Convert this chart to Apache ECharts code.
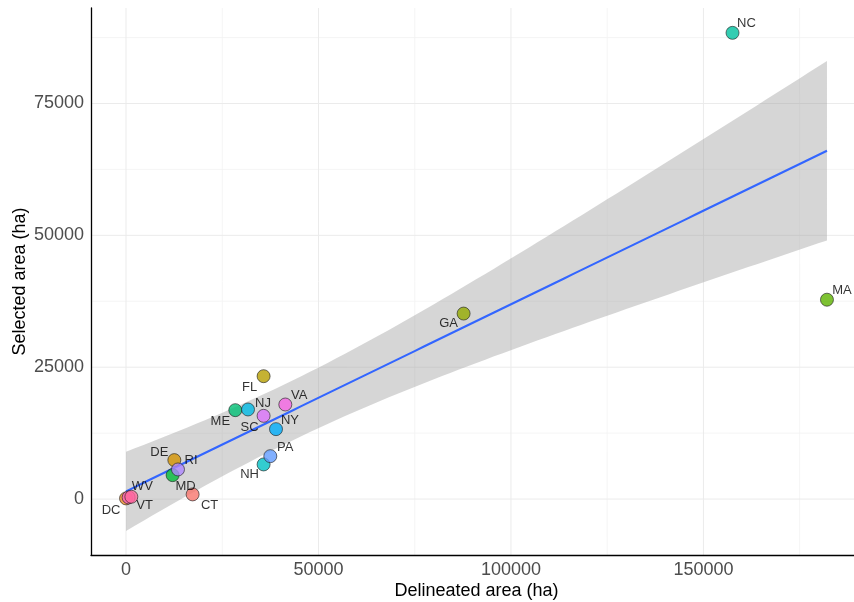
<!DOCTYPE html>
<html><head><meta charset="utf-8">
<script src="https://cdn.jsdelivr.net/npm/echarts@6/dist/echarts.min.js"></script>
<style>html,body{margin:0;padding:0;background:#fff}#chart{width:854px;height:602px}</style>
</head><body><div id="chart"></div>
<script>
// ---- data ----
const states = ['CT','DC','DE','FL','GA','MA','MD','ME','NC','NH','NJ','NY','PA','RI','SC','VA','VT','WV'];
const delineatedArea = [17300,0,12550,35740,87700,182100,12100,28390,157560,35740,31690,38960,37480,13500,35740,41380,675,1380];
const selectedArea   = [890,130,7390,23300,35170,37800,4540,16860,88390,6570,16990,13260,8140,5620,15780,17930,320,440];
const xTicks = [0,50000,100000,150000];
const yTicks = [0,25000,50000,75000];
const xMinorGrid = [25000,75000,125000,175000];
const yMinorGrid = [12500,37500,62500,87500];

// ---- layout / style (not data) ----
const X_MIN = -9100, X_MAX = 191200, Y_MIN = -10600, Y_MAX = 93100;
const labelOffset = {CT:[17,11],DC:[-15,12],DE:[-15,-8],FL:[-14,11],GA:[-15,10],MA:[15,-9],MD:[13,11],ME:[-15,11],
  NC:[14,-9],NH:[-14,10],NJ:[15,-6],NY:[14,-9],PA:[15,-9],RI:[13,-9],SC:[-14,12],VA:[14,-9],VT:[16,8],WV:[11,-10]};
const FONT = '"Liberation Sans", Arial, sans-serif';

// ggplot-like hue palette (HCL, L=65, C=100)
function hcl2hex(h, c, l) {
  const hr = h * Math.PI / 180;
  const U = c * Math.cos(hr), V = c * Math.sin(hr);
  const Xn = 95.047, Yn = 100, Zn = 108.883;
  const Y = l > 8 ? Yn * Math.pow((l + 16) / 116, 3) : Yn * l / 903.3;
  const den = Xn + 15 * Yn + 3 * Zn;
  const un = 4 * Xn / den, vn = 9 * Yn / den;
  const u = U / (13 * l) + un, v = V / (13 * l) + vn;
  const X = 9 * Y * u / (4 * v);
  const Z = Y * (12 - 3 * u - 20 * v) / (4 * v);
  const x = X / 100, y = Y / 100, z = Z / 100;
  let r = 3.240479 * x - 1.53715 * y - 0.498535 * z;
  let g = -0.969256 * x + 1.875992 * y + 0.041556 * z;
  let b = 0.055648 * x - 0.204043 * y + 1.057311 * z;
  const gam = t => t > 0.0031308 ? 1.055 * Math.pow(t, 1 / 2.4) - 0.055 : 12.92 * t;
  const to = t => { t = Math.round(Math.max(0, Math.min(1, gam(t))) * 255); return t.toString(16).padStart(2, '0'); };
  return '#' + to(r) + to(g) + to(b);
}
const colors = states.map((s, i) => hcl2hex(15 + 360 * i / states.length, 100, 65));

// ---- linear fit with 95% confidence band (as geom_smooth(method='lm')) ----
const n = delineatedArea.length;
const mx = delineatedArea.reduce((a, b) => a + b, 0) / n;
const my = selectedArea.reduce((a, b) => a + b, 0) / n;
let sxx = 0, sxy = 0;
for (let i = 0; i < n; i++) { sxx += (delineatedArea[i] - mx) ** 2; sxy += (delineatedArea[i] - mx) * (selectedArea[i] - my); }
const slope = sxy / sxx, intercept = my - slope * mx;
let sse = 0;
for (let i = 0; i < n; i++) sse += (selectedArea[i] - intercept - slope * delineatedArea[i]) ** 2;
const sres = Math.sqrt(sse / (n - 2));
const TCRIT = 2.1199; // t(0.975, df = 16)
const xLo = Math.min(...delineatedArea), xHi = Math.max(...delineatedArea);
const fitLine = [], bandUpper = [], bandLower = [];
for (let k = 0; k <= 80; k++) {
  const x = xLo + (xHi - xLo) * k / 80;
  const yh = intercept + slope * x;
  const se = sres * Math.sqrt(1 / n + (x - mx) ** 2 / sxx);
  fitLine.push([x, yh]); bandUpper.push([x, yh + TCRIT * se]); bandLower.push([x, yh - TCRIT * se]);
}

const plain = v => String(v);
const chart = echarts.init(document.getElementById('chart'), null, {renderer: 'canvas'});
chart.setOption({
  animation: false,
  textStyle: {fontFamily: FONT},
  grid: {left: 91, right: -8, top: 8, bottom: 47, containLabel: false, outerBoundsMode: 'none'},
  xAxis: {
    type: 'value', min: X_MIN, max: X_MAX,
    name: 'Delineated area (ha)', nameLocation: 'middle', nameGap: 27, nameMoveOverlap: false,
    nameTextStyle: {fontSize: 18, color: '#000', fontFamily: FONT},
    axisLine: {show: true, onZero: false, lineStyle: {color: '#000', width: 1.3}},
    axisTick: {show: false, customValues: xTicks},
    axisLabel: {customValues: xTicks, formatter: plain, fontSize: 18, color: '#4d4d4d', margin: 6, fontFamily: FONT},
    splitLine: {show: false}
  },
  yAxis: {
    type: 'value', min: Y_MIN, max: Y_MAX,
    name: 'Selected area (ha)', nameLocation: 'middle', nameGap: 62, nameMoveOverlap: false,
    nameTextStyle: {fontSize: 18, color: '#000', fontFamily: FONT},
    axisLine: {show: true, onZero: false, lineStyle: {color: '#000', width: 1.3}},
    axisTick: {show: false, customValues: yTicks},
    axisLabel: {customValues: yTicks, formatter: plain, fontSize: 18, color: '#4d4d4d', margin: 7, fontFamily: FONT},
    splitLine: {show: false}
  },
  series: [
    { // grid lines
      type: 'custom', silent: true, z: 0, data: [[0, 0]],
      renderItem: (params, api) => {
        const children = [];
        const mk = (p1, p2, col, w) => children.push({type: 'line', shape: {x1: p1[0], y1: p1[1], x2: p2[0], y2: p2[1]}, style: {stroke: col, lineWidth: w}});
        xMinorGrid.forEach(v => mk(api.coord([v, Y_MIN]), api.coord([v, Y_MAX]), '#f3f3f3', 0.8));
        yMinorGrid.forEach(v => mk(api.coord([X_MIN, v]), api.coord([X_MAX, v]), '#f3f3f3', 0.8));
        xTicks.forEach(v => mk(api.coord([v, Y_MIN]), api.coord([v, Y_MAX]), '#ebebeb', 1));
        yTicks.forEach(v => mk(api.coord([X_MIN, v]), api.coord([X_MAX, v]), '#ebebeb', 1));
        return {type: 'group', children};
      }
    },
    { // confidence band
      type: 'custom', silent: true, z: 1, data: [[0, 0]],
      renderItem: (params, api) => {
        const pts = bandUpper.map(p => api.coord(p)).concat(bandLower.slice().reverse().map(p => api.coord(p)));
        return {type: 'polygon', shape: {points: pts}, style: {fill: 'rgba(153,153,153,0.4)'}};
      }
    },
    { // fit line
      type: 'line', data: fitLine, showSymbol: false, silent: true, z: 2,
      lineStyle: {color: '#3366FF', width: 2.1}
    },
    { // points
      type: 'scatter', z: 3, symbolSize: 13,
      data: states.map((s, i) => ({
        name: s, value: [delineatedArea[i], selectedArea[i]],
        itemStyle: {color: colors[i], borderColor: '#222', borderWidth: 0.8},
        label: {show: true, position: 'inside', offset: labelOffset[s], formatter: '{b}', color: '#000',
                fontSize: 13, fontFamily: FONT, align: 'center', verticalAlign: 'middle'}
      }))
    }
  ]
});
</script>
</body></html>
